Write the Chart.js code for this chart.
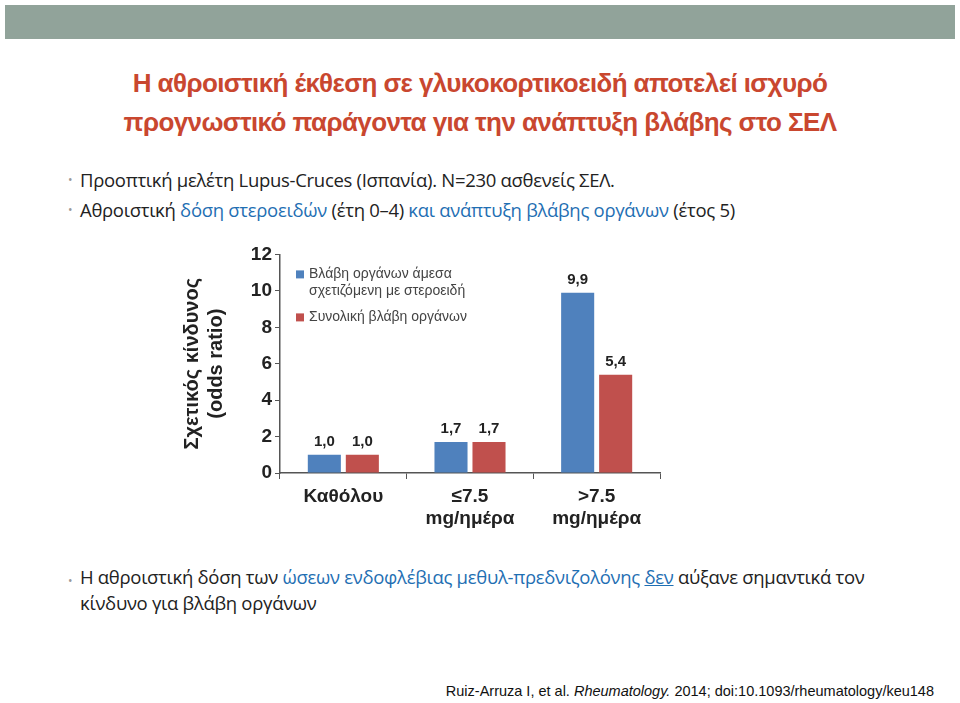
<!DOCTYPE html>
<html>
<head>
<meta charset="utf-8">
<script src="https://cdn.jsdelivr.net/npm/chart.js@4"></script>
<style>
  body { margin: 0; width: 960px; height: 703px; background: #fff; position: relative; overflow: hidden; font-family: "Open Sans", sans-serif; }
  .bar { position: absolute; left: 5px; top: 5px; width: 950px; height: 34px; background: #91a39a; }
  .title { position: absolute; left: 0; width: 960px; top: 64px; text-align: center; color: #c9472f; font-family: "Liberation Sans", Arial, sans-serif; font-weight: bold; font-size: 26px; line-height: 39px; letter-spacing: -0.6px; }
  .bul { position: absolute; left: 80px; font-size: 18.5px; color: #222; letter-spacing: -0.3px; }
  .bul:before { content: "•"; color: #999; font-size: 12px; position: absolute; left: -12px; top: 4px; }
  .blue { color: #1f6fb3; }
  .cite { position: absolute; right: 26px; top: 683px; font-family: "Liberation Sans", Arial, sans-serif; font-size: 14.5px; color: #111; }
  #wrap { position: absolute; left: 180px; top: 240px; width: 485px; height: 295px; }
</style>
</head>
<body>
<div class="bar"></div>
<div class="title">Η αθροιστική έκθεση σε γλυκοκορτικοειδή αποτελεί ισχυρό<br>προγνωστικό παράγοντα για την ανάπτυξη βλάβης στο ΣΕΛ</div>
<div class="bul" style="top:167px">Προοπτική μελέτη Lupus-Cruces (Ισπανία). Ν=230 ασθενείς ΣΕΛ.</div>
<div class="bul" style="top:197px">Αθροιστική <span class="blue">δόση στεροειδών</span> (έτη 0–4) <span class="blue">και ανάπτυξη βλάβης οργάνων</span> (έτος 5)</div>
<div id="wrap"><canvas id="c"></canvas></div>
<div class="bul" style="top:564px; line-height:26px; width:830px">Η αθροιστική δόση των <span class="blue">ώσεων ενδοφλέβιας μεθυλ-πρεδνιζολόνης <u>δεν</u></span> αύξανε σημαντικά τον κίνδυνο για βλάβη οργάνων</div>
<div class="cite">Ruiz-Arruza I, et al. <i>Rheumatology.</i> 2014; doi:10.1093/rheumatology/keu148</div>
<script>
const categories = ['Καθόλου', ['≤7.5', 'mg/ημέρα'], ['>7.5', 'mg/ημέρα']];
const steroidDamage = [1.0, 1.7, 9.9];
const totalDamage = [1.0, 1.7, 5.4];
const seriesLabels = [['Βλάβη οργάνων άμεσα', 'σχετιζόμενη με στεροειδή'], ['Συνολική βλάβη οργάνων']];
const yTicks = [0, 2, 4, 6, 8, 10, 12];

const font = { family: 'Liberation Sans, Arial, sans-serif', size: 19, weight: 'bold' };

const valueLabels = {
  id: 'valueLabels',
  afterDatasetsDraw(chart) {
    const ctx = chart.ctx;
    ctx.save();
    ctx.font = 'bold 15px Liberation Sans, Arial, sans-serif';
    ctx.fillStyle = '#222';
    ctx.textAlign = 'center';
    chart.data.datasets.forEach((ds, i) => {
      chart.getDatasetMeta(i).data.forEach((bar, j) => {
        ctx.fillText(ds.data[j].toFixed(1).replace('.', ','), bar.x, bar.y - 9);
      });
    });
    ctx.restore();
  }
};

const innerLegend = {
  id: 'innerLegend',
  afterDraw(chart) {
    const ctx = chart.ctx;
    const x = chart.chartArea.left + 16;
    let y = chart.chartArea.top + 20;
    ctx.save();
    ctx.font = '14px Liberation Sans, Arial, sans-serif';
    ctx.textBaseline = 'middle';
    chart.data.datasets.forEach(ds => {
      ctx.fillStyle = ds.backgroundColor;
      ctx.fillRect(x, y - 4, 8, 8);
      ctx.fillStyle = '#444';
      ds.label.forEach((line, k) => ctx.fillText(line, x + 13, y + k * 17));
      y += ds.label.length * 17 + 9;
    });
    ctx.restore();
  }
};

new Chart(document.getElementById('c'), {
  type: 'bar',
  data: {
    labels: categories,
    datasets: [
      { label: seriesLabels[0], data: steroidDamage, backgroundColor: '#4f81bd' },
      { label: seriesLabels[1], data: totalDamage, backgroundColor: '#c0504d' }
    ]
  },
  options: {
    responsive: true,
    maintainAspectRatio: false,
    animation: false,
    layout: { padding: { top: 12, right: 5 } },
    categoryPercentage: 0.6,
    barPercentage: 0.87,
    plugins: { legend: { display: false }, tooltip: { enabled: false } },
    scales: {
      x: {
        offset: true,
        grid: { offset: true, drawOnChartArea: false, drawTicks: true, tickLength: 6, color: '#555' },
        border: { color: '#555', width: 1.5 },
        ticks: { color: '#222', font, padding: 6 },
        afterFit(s) { s.height = 62; }
      },
      y: {
        min: 0, max: 12,
        afterBuildTicks(s) { s.ticks = yTicks.map(v => ({ value: v })); },
        grid: { drawOnChartArea: false, drawTicks: true, tickLength: 5, color: '#555' },
        border: { color: '#555', width: 1.5 },
        ticks: { color: '#222', font, padding: 3 },
        title: { display: true, text: ['Σχετικός κίνδυνος', '(odds ratio)'], color: '#222', font: { family: 'Liberation Sans, Arial, sans-serif', size: 20, weight: 'bold' }, padding: 0 },
        afterFit(s) { s.width = 100; }
      }
    }
  },
  plugins: [valueLabels, innerLegend]
});
</script>
</body>
</html>
